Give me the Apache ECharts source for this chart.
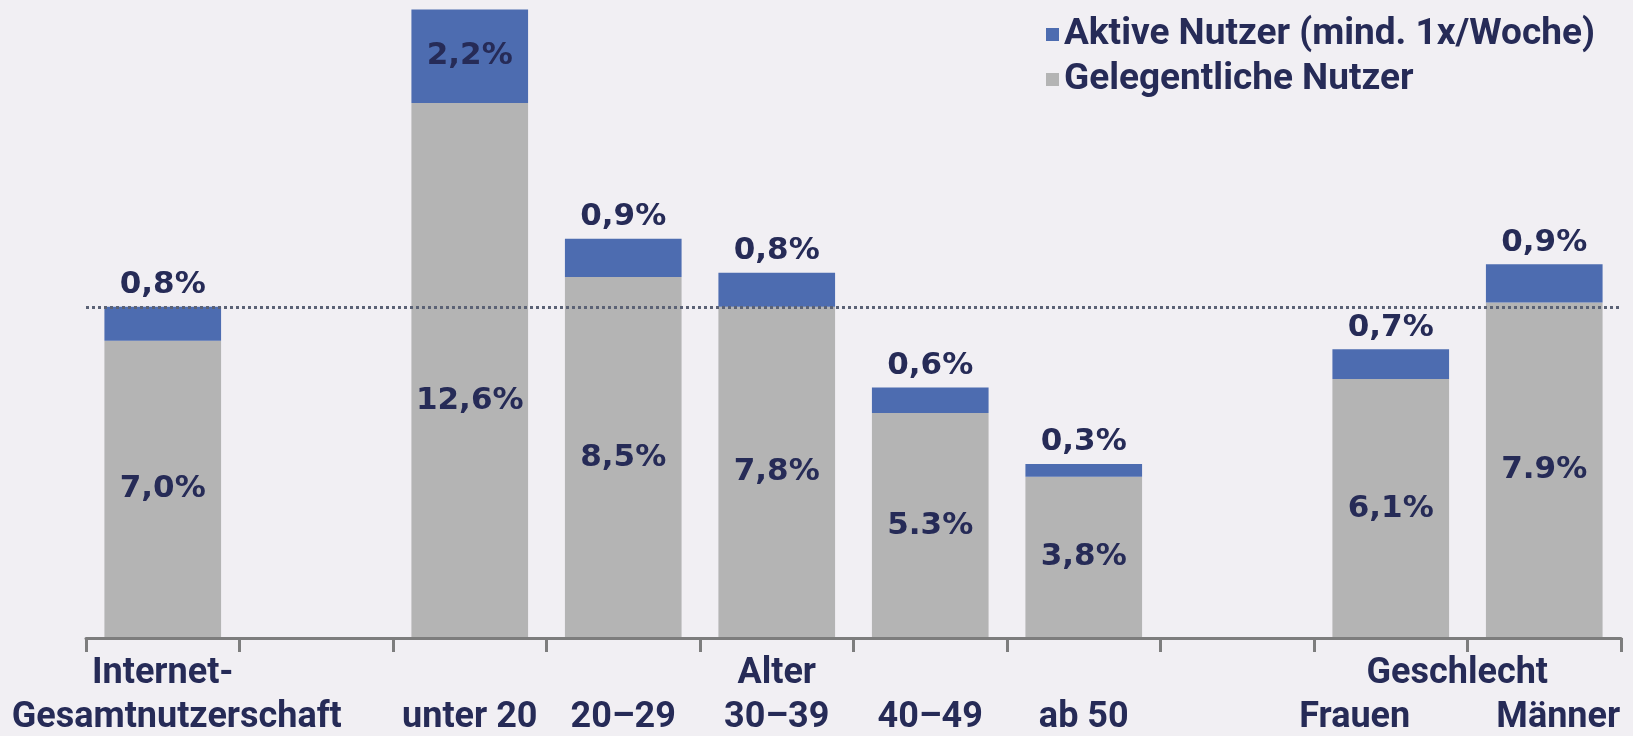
<!DOCTYPE html>
<html>
<head>
<meta charset="utf-8">
<script src="https://cdn.jsdelivr.net/npm/echarts@6/dist/echarts.min.js"></script>
<style>
  html, body { margin: 0; padding: 0; background: #f1eff3; }
  #chart { width: 1633px; height: 736px; }
</style>
</head>
<body>
<div id="chart"></div>
<script>
// categories (empty slots keep the gaps between groups)
const categories = ['Gesamtnutzerschaft', '', 'unter 20', '20–29', '30–39', '40–49', 'ab 50', '', 'Frauen', 'Männer'];
const groupLabels = ['Internet-', '', '', '', 'Alter', '', '', '', '', 'Geschlecht'];
const occasionalUsers = [7.0, null, 12.6, 8.5, 7.8, 5.3, 3.8, null, 6.1, 7.9];
const activeUsers = [0.8, null, 2.2, 0.9, 0.8, 0.6, 0.3, null, 0.7, 0.9];
const occasionalSep = [',', '', ',', ',', ',', '.', ',', '', ',', '.'];
const seriesNames = ['Aktive Nutzer (mind. 1x/Woche)', 'Gelegentliche Nutzer'];

const textColor = '#262b57';
const blue = '#4d6cb0';
const grey = '#b4b4b4';
const axisColor = '#7d7d7d';
const labelFont = "'Liberation Sans Narrow', 'Roboto', sans-serif";
const valueFont = "'DejaVu Sans', sans-serif";

const fmt = (v, sep) => v.toFixed(1).replace('.', sep) + '%';

// small horizontal nudges for a few axis labels
const catShift = { 0: [0, 0, 0, 28], 8: [0, 72, 0, 0], 9: [0, 0, 0, 28] };
const groupShift = { 9: [0, 174, 0, 0] };

const chart = echarts.init(document.getElementById('chart'));

const option = {
  backgroundColor: '#f1eff3',
  animation: false,
  legend: {
    data: seriesNames,
    orient: 'vertical',
    left: 1041,
    top: 11,
    itemWidth: 13,
    itemHeight: 13,
    itemGap: 8,
    icon: 'rect',
    textStyle: {
      color: textColor,
      fontFamily: labelFont,
      fontWeight: 'bold',
      fontSize: 37,
      lineHeight: 36
    }
  },
  grid: { left: 86, right: 12, top: 1, bottom: 96 },
  xAxis: [
    {
      type: 'category',
      data: categories.map((c, i) =>
        catShift[i] ? { value: c, textStyle: { padding: catShift[i] } } : c
      ),
      axisLine: { show: true, lineStyle: { color: axisColor, width: 3 } },
      axisTick: {
        show: true,
        interval: 0,
        alignWithLabel: false,
        length: 14,
        lineStyle: { color: axisColor, width: 3 }
      },
      axisLabel: {
        interval: 0,
        margin: 62,
        color: textColor,
        fontFamily: labelFont,
        fontWeight: 'bold',
        fontSize: 36
      },
      z: 5
    },
    {
      type: 'category',
      position: 'bottom',
      data: groupLabels.map((c, i) =>
        groupShift[i] ? { value: c, textStyle: { padding: groupShift[i] } } : c
      ),
      axisLine: { show: false },
      axisTick: { show: false },
      axisLabel: {
        interval: 0,
        margin: 18,
        color: textColor,
        fontFamily: labelFont,
        fontWeight: 'bold',
        fontSize: 36
      }
    }
  ],
  yAxis: {
    type: 'value',
    min: 0,
    max: 15,
    show: false,
    splitLine: { show: false }
  },
  series: [
    {
      name: seriesNames[1],
      type: 'bar',
      stack: 'total',
      barCategoryGap: '24%',
      itemStyle: { color: grey },
      data: occasionalUsers.map((v, i) =>
        i === 2 ? { value: v, label: { offset: [0, 30] } } : v
      ),
      label: {
        show: true,
        position: 'inside',
        color: textColor,
        fontFamily: valueFont,
        fontWeight: 'bold',
        fontSize: 31,
        formatter: p => fmt(p.value, occasionalSep[p.dataIndex])
      }
    },
    {
      name: seriesNames[0],
      type: 'bar',
      stack: 'total',
      barCategoryGap: '24%',
      itemStyle: { color: blue },
      data: activeUsers.map((v, i) =>
        i === 2 ? { value: v, label: { position: 'inside' } } : v
      ),
      label: {
        show: true,
        position: 'top',
        distance: 6,
        color: textColor,
        fontFamily: valueFont,
        fontWeight: 'bold',
        fontSize: 31,
        formatter: p => fmt(p.value, ',')
      },
      markLine: {
        silent: true,
        symbol: 'none',
        label: { show: false },
        lineStyle: { color: '#5b6275', type: [3, 3], width: 3 },
        data: [{ yAxis: occasionalUsers[0] + activeUsers[0] }]
      },
      z: 3
    }
  ]
};

chart.setOption(option);
</script>
</body>
</html>
